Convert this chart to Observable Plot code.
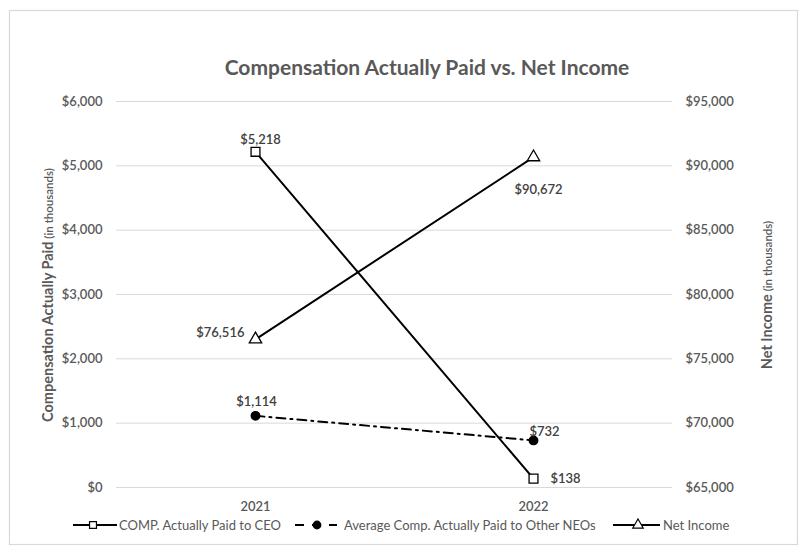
<!DOCTYPE html>
<html>
<head>
<meta charset="utf-8">
<script src="https://cdn.jsdelivr.net/npm/d3@7"></script>
<script src="https://cdn.jsdelivr.net/npm/@observablehq/plot@0.6"></script>
<style>
  body { margin: 0; background: #fff; }
  #chart { position: relative; width: 807px; height: 557px; }
  #chart svg { font-family: Lato, "Open Sans", sans-serif; }
</style>
</head>
<body>
<div id="chart"></div>
<script>
// Pay-versus-performance values (in thousands)
const years = ["2021", "2022"];
const ceoPaid = [5218, 138];
const neoPaid = [1114, 732];
const netIncome = [76516, 90672];

const leftTicks = [0, 1000, 2000, 3000, 4000, 5000, 6000];
const rightTicks = [65000, 70000, 75000, 80000, 85000, 90000, 95000];

const seriesNames = [
  "COMP. Actually Paid to CEO",
  "Average Comp. Actually Paid to Other NEOs",
  "Net Income"
];
const titleText = "Compensation Actually Paid vs. Net Income";
const leftTitle = ["Compensation Actually Paid", " (in thousands)"];
const rightTitle = ["Net Income", " (in thousands)"];

// Net income lives on the right axis; map it onto the left axis domain
const rMin = rightTicks[0], rMax = rightTicks[rightTicks.length - 1];
const lMax = leftTicks[leftTicks.length - 1];
const toLeft = v => (v - rMin) / (rMax - rMin) * lMax;
const fromLeft = v => v / lMax * (rMax - rMin) + rMin;

const money = v => "$" + d3.format(",")(Math.round(v));

const ceo = years.map((y, i) => ({year: y, value: ceoPaid[i]}));
const neo = years.map((y, i) => ({year: y, value: neoPaid[i]}));
const ni = years.map((y, i) => ({year: y, value: netIncome[i], y: toLeft(netIncome[i])}));

const gray = "#595959";
const labelColor = "#404040";

const chart = Plot.plot({
  width: 807,
  height: 557,
  marginLeft: 116,
  marginRight: 135,
  marginTop: 101,
  marginBottom: 70,
  style: {fontFamily: "Lato, 'Open Sans', sans-serif", fontSize: "13px", color: gray, background: "#fff"},
  x: {type: "point", domain: years, padding: 0.5, label: null},
  y: {domain: [0, lMax], label: null},
  marks: [
    Plot.gridY(leftTicks, {stroke: "#d9d9d9", strokeOpacity: 1, strokeWidth: 1}),
    Plot.axisY(leftTicks, {
      anchor: "left", tickSize: 0, tickPadding: 14, tickFormat: money,
      fill: gray, fontSize: 13, fontWeight: 600, label: null
    }),
    Plot.axisY(rightTicks.map(toLeft), {
      anchor: "right", tickSize: 0, tickPadding: 13, tickFormat: d => money(fromLeft(d)),
      fill: gray, fontSize: 13, fontWeight: 600, label: null
    }),
    Plot.axisX({tickSize: 0, tickPadding: 14, fill: gray, fontSize: 13, fontWeight: 600, label: null}),

    // series lines
    Plot.line(ceo, {x: "year", y: "value", stroke: "#000", strokeWidth: 2}),
    Plot.line(neo, {x: "year", y: "value", stroke: "#000", strokeWidth: 2, strokeDasharray: "9,5,2,5"}),
    Plot.line(ni, {x: "year", y: "y", stroke: "#000", strokeWidth: 2}),

    // markers
    Plot.dot(ceo, {x: "year", y: "value", symbol: "square", r: 5, fill: "#fff", stroke: "#000", strokeWidth: 1.3}),
    Plot.dot(neo, {x: "year", y: "value", symbol: "circle", r: 4.2, fill: "#000", stroke: "#000"}),
    Plot.dot(ni, {x: "year", y: "y", symbol: "triangle", r: 4.6, fill: "#fff", stroke: "#000", strokeWidth: 1.3}),

    // data labels
    Plot.text([ceo[0]], {x: "year", y: "value", text: d => money(d.value), dx: 5, dy: -12, fill: labelColor, fontSize: 13, fontWeight: 600}),
    Plot.text([ceo[1]], {x: "year", y: "value", text: d => money(d.value), dx: 17, dy: 0, textAnchor: "start", fill: labelColor, fontSize: 13, fontWeight: 600}),
    Plot.text([neo[0]], {x: "year", y: "value", text: d => money(d.value), dx: 1, dy: -14, fill: labelColor, fontSize: 13, fontWeight: 600}),
    Plot.text([neo[1]], {x: "year", y: "value", text: d => money(d.value), dx: -4, dy: -9, textAnchor: "start", fill: labelColor, fontSize: 13, fontWeight: 600}),
    Plot.text([ni[0]], {x: "year", y: "y", text: d => money(d.value), dx: -11, dy: -6, textAnchor: "end", fill: labelColor, fontSize: 13, fontWeight: 600}),
    Plot.text([ni[1]], {x: "year", y: "y", text: d => money(d.value), dx: 5, dy: 33, fill: labelColor, fontSize: 13, fontWeight: 600})
  ]
});

document.getElementById("chart").appendChild(chart);

const svg = d3.select(chart);

// chart border
svg.insert("rect", ":first-child")
  .attr("x", 9.5).attr("y", 10.5).attr("width", 788).attr("height", 534)
  .attr("fill", "none").attr("stroke", "#d9d9d9").attr("stroke-width", 1.2);

// title
svg.append("text")
  .attr("x", 427).attr("y", 68).attr("dy", "0.35em")
  .attr("text-anchor", "middle")
  .attr("fill", gray).attr("font-size", 21).attr("font-weight", 700)
  .text(titleText);

// axis titles with a lighter "(in thousands)" part
function axisTitle(x, y, parts) {
  const t = svg.append("text")
    .attr("transform", `translate(${x},${y}) rotate(-90)`)
    .attr("text-anchor", "middle").attr("dy", "0.35em")
    .attr("fill", gray);
  t.append("tspan").attr("font-size", 14.5).attr("font-weight", 700).text(parts[0]);
  t.append("tspan").attr("font-size", 11.5).attr("font-weight", 600).text(parts[1]);
}
axisTitle(48, 295, leftTitle);
axisTitle(767, 295, rightTitle);

// legend
const legendY = 525;
const legend = svg.append("g").attr("fill", gray).attr("font-size", 13).attr("text-anchor", "start");
const items = [
  {x0: 73, x1: 117, mx: 93, text: 119, dash: null, sym: "square"},
  {x0: 295, x1: 337, mx: 317, text: 344, dash: "9,8", sym: "circle"},
  {x0: 613, x1: 660, mx: 638, text: 663, dash: null, sym: "triangle"}
];
items.forEach((it, i) => {
  legend.append("line")
    .attr("x1", it.x0).attr("x2", it.x1).attr("y1", legendY).attr("y2", legendY)
    .attr("stroke", "#000").attr("stroke-width", 2)
    .attr("stroke-dasharray", it.dash);
  const symType = it.sym === "square" ? d3.symbolSquare : it.sym === "circle" ? d3.symbolCircle : d3.symbolTriangle;
  const size = it.sym === "circle" ? Math.PI * 3.8 * 3.8 : Math.PI * 3.9 * 3.9;
  legend.append("path")
    .attr("transform", `translate(${it.mx},${legendY})`)
    .attr("d", d3.symbol(symType, size)())
    .attr("fill", it.sym === "circle" ? "#000" : "#fff")
    .attr("stroke", "#000").attr("stroke-width", 1.2);
  legend.append("text")
    .attr("x", it.text).attr("y", legendY).attr("dy", "0.35em")
    .attr("text-anchor", "start")
    .text(seriesNames[i]);
});
</script>
</body>
</html>
